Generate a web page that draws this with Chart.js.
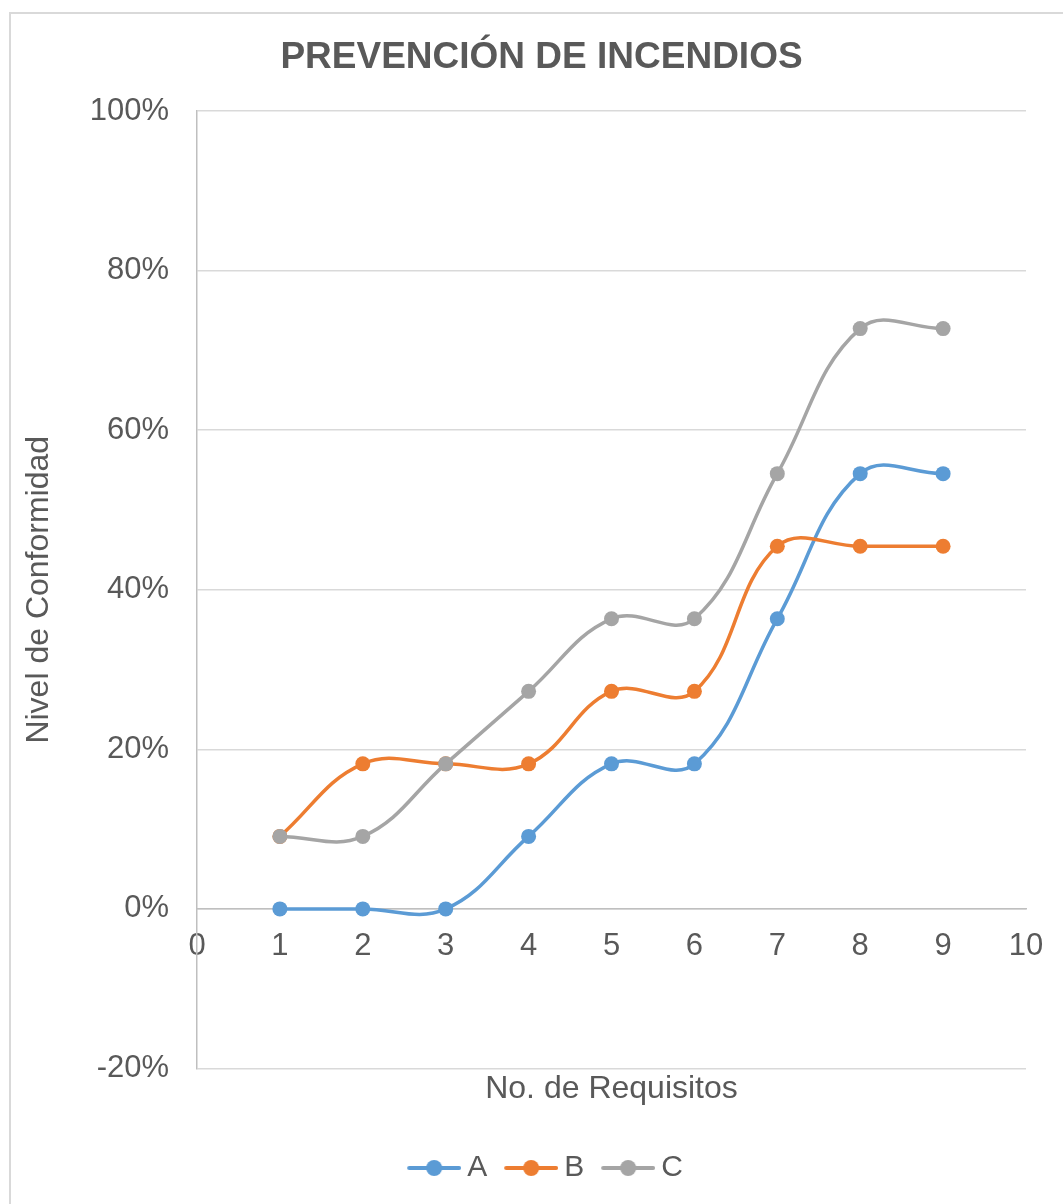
<!DOCTYPE html>
<html>
<head>
<meta charset="utf-8">
<script src="https://cdn.jsdelivr.net/npm/chart.js@4"></script>
<style>
  html, body { margin: 0; padding: 0; background: #fff; }
  #wrap { position: relative; width: 1063px; height: 1204px; overflow: hidden; }
  #frame { position: absolute; left: 9px; top: 12px; width: 1100px; height: 1250px; border: 2px solid #d9d9d9; }
  #grafico { position: absolute; left: 0; top: 0; }
</style>
</head>
<body>
<div id="wrap">
  <div id="frame"></div>
  <canvas id="grafico" width="1063" height="1204"></canvas>
</div>
<script>
"use strict";

// Datos (porcentaje de conformidad por requisito)
var requisitos = [1, 2, 3, 4, 5, 6, 7, 8, 9];
var serieA = [0, 0, 0, 9.09, 18.18, 18.18, 36.36, 54.55, 54.55];
var serieB = [9.09, 18.18, 18.18, 18.18, 27.27, 27.27, 45.45, 45.45, 45.45];
var serieC = [9.09, 9.09, 18.18, 27.27, 36.36, 36.36, 54.55, 72.73, 72.73];
var nombres = ['A', 'B', 'C'];
var colores = ['#5b9bd5', '#ed7d31', '#a5a5a5'];

var GRIS_TEXTO = '#595959';
Chart.defaults.font.family = "'Liberation Sans', Arial, sans-serif";

function puntos(serie) {
  return requisitos.map(function(x, i) { return { x: x, y: serie[i] }; });
}

// marca de la leyenda: linea con circulo, como en Excel
function marcaLeyenda(color) {
  var c = document.createElement('canvas');
  c.width = 70; c.height = 18;
  var g = c.getContext('2d');
  g.strokeStyle = color; g.lineWidth = 4; g.lineCap = 'round';
  g.beginPath(); g.moveTo(18, 9); g.lineTo(68, 9); g.stroke();
  g.fillStyle = color;
  g.beginPath(); g.arc(43, 9, 8, 0, Math.PI * 2); g.fill();
  return c;
}
var marcas = colores.map(marcaLeyenda);

function serie(i, datos, orden) {
  return {
    label: nombres[i],
    data: puntos(datos),
    borderColor: colores[i],
    backgroundColor: colores[i],
    pointBackgroundColor: colores[i],
    pointBorderColor: colores[i],
    pointBorderWidth: 0,
    pointRadius: 7.5,
    borderWidth: 3.5,
    tension: 0.4,
    clip: false,
    order: orden
  };
}

new Chart(document.getElementById('grafico'), {
  type: 'line',
  data: {
    datasets: [serie(0, serieA, 3), serie(1, serieB, 2), serie(2, serieC, 1)]
  },
  options: {
    responsive: false,
    animation: false,
    devicePixelRatio: 1,
    layout: { padding: { left: 20, right: 0, top: 0, bottom: 11 } },
    scales: {
      x: {
        type: 'linear',
        position: { y: 0 },
        min: 0, max: 10,
        ticks: { stepSize: 1, color: GRIS_TEXTO, font: { size: 31 }, padding: 19, maxRotation: 0 },
        grid: { display: false, drawTicks: false },
        border: { display: true, color: '#bfbfbf', width: 1.5 },
        afterFit: function(s) { s.paddingRight = 37; }
      },
      y: {
        min: -20, max: 100,
        ticks: {
          stepSize: 20, color: GRIS_TEXTO, font: { size: 31 }, padding: 28,
          callback: function(v) { return v + '%'; }
        },
        grid: { color: '#d9d9d9', lineWidth: 1.5, drawTicks: false },
        border: { display: true, color: '#bfbfbf', width: 1.5 },
        title: {
          display: true, text: 'Nivel de Conformidad', color: GRIS_TEXTO,
          font: { size: 32 }, padding: { top: 0, bottom: 0 }
        },
        afterFit: function(s) { s.width = 177; }
      }
    },
    plugins: {
      title: {
        display: true,
        text: 'PREVENCIÓN DE INCENDIOS',
        color: GRIS_TEXTO,
        font: { size: 37, weight: 'bold' },
        padding: { top: 36, bottom: 30.6 }
      },
      subtitle: {
        display: true,
        text: 'No. de Requisitos',
        position: 'bottom',
        fullSize: false,
        weight: 500,
        color: GRIS_TEXTO,
        font: { size: 32 },
        padding: { top: 1, bottom: 35.1 }
      },
      legend: {
        position: 'bottom',
        labels: {
          usePointStyle: true,
          pointStyleWidth: 52,
          padding: 10,
          color: GRIS_TEXTO,
          font: { size: 30 },
          sort: function(a, b) { return a.datasetIndex - b.datasetIndex; },
          generateLabels: function(chart) {
            var items = Chart.defaults.plugins.legend.labels.generateLabels(chart);
            items.forEach(function(it) { it.pointStyle = marcas[it.datasetIndex]; });
            return items;
          }
        }
      },
      tooltip: { enabled: false }
    }
  }
});
</script>
</body>
</html>
